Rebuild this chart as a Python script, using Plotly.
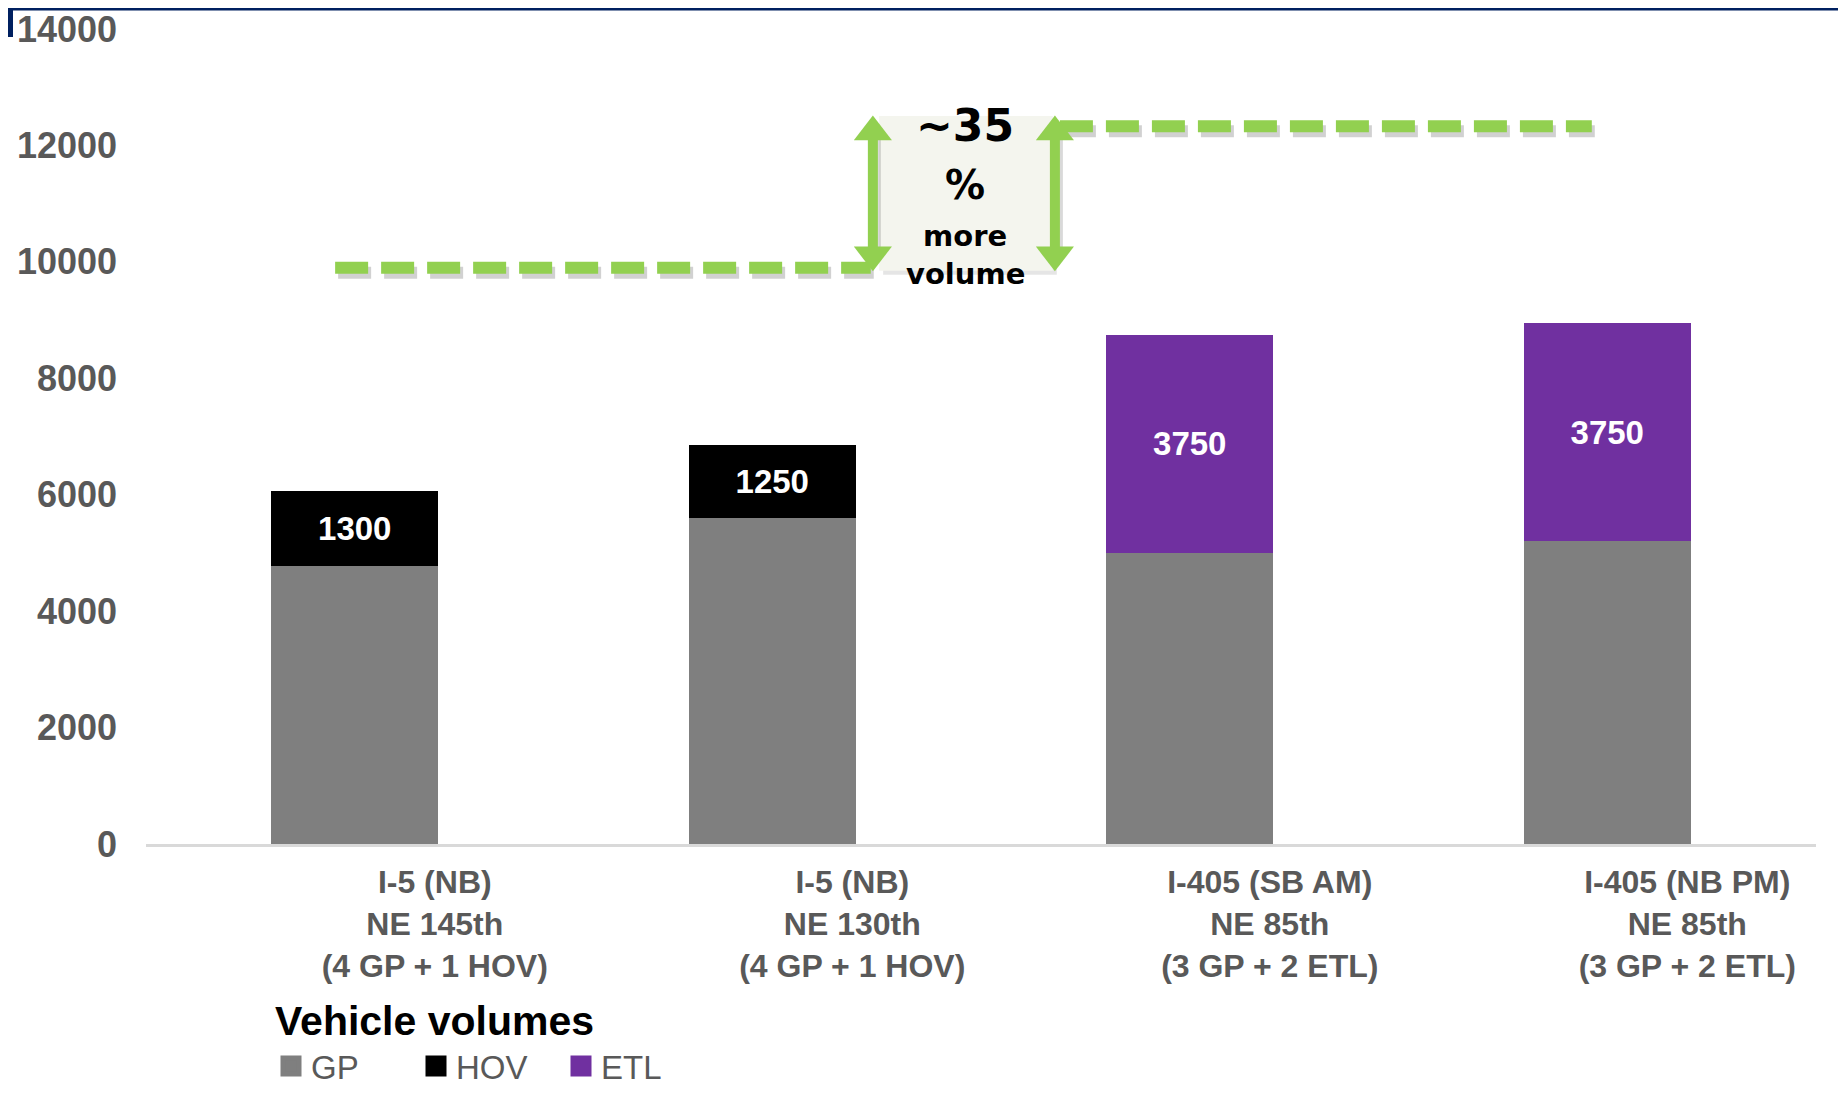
import plotly.graph_objects as go

# ---------------- data ----------------
categories = [
    "I-5 (NB)<br>NE 145th<br>(4 GP + 1 HOV)",
    "I-5 (NB)<br>NE 130th<br>(4 GP + 1 HOV)",
    "I-405 (SB AM)<br>NE 85th<br>(3 GP + 2 ETL)",
    "I-405 (NB PM)<br>NE 85th<br>(3 GP + 2 ETL)",
]
gp_values = [4770, 5600, 5000, 5200]
hov_values = [1300, 1250, None, None]
etl_values = [None, None, 3750, 3750]
y_ticks = [0, 2000, 4000, 6000, 8000, 10000, 12000, 14000]
legend_title = "Vehicle volumes"
series_names = ["GP", "HOV", "ETL"]

# callout levels
lower_level = 9900
upper_level = 12330
callout_lines = ["~35", "%", "more", "volume"]

# ---------------- style ----------------
# the page body has an 8px margin, so the figure is 16px smaller than the window
W, H = 1830, 1079
ML, MR, MT, MB = 138, 22, 21, 243
GP_COL, HOV_COL, ETL_COL = "#7f7f7f", "#000000", "#7030a0"
GREEN = "#92d050"
TXT = "#595959"
FONT = "Liberation Sans, Arial, sans-serif"
NARROW = "Liberation Sans Narrow, Arial Narrow, Liberation Sans, sans-serif"
CALL_FONT = "DejaVu Sans, Verdana, sans-serif"

plot_w = W - ML - MR
plot_h = H - MT - MB
ymax = y_ticks[-1]
px_x = 4.0 / plot_w          # x units per pixel
px_y = ymax / plot_h         # value units per pixel
zero_px = H - MB             # pixel row of the x axis

def paper_x(px):
    return (px - ML) / plot_w

def paper_y(py):
    return (zero_px - py) / plot_h

xpos = list(range(len(categories)))

fig = go.Figure()

fig.add_trace(go.Bar(x=xpos, y=gp_values, name="GP", marker_color=GP_COL,
                     width=0.4, showlegend=False, marker_line_width=0))
fig.add_trace(go.Bar(x=xpos, y=hov_values, name="HOV", marker_color=HOV_COL,
                     width=0.4, showlegend=False, marker_line_width=0,
                     text=[str(v) if v else "" for v in hov_values],
                     textposition="inside", insidetextanchor="middle", textangle=0,
                     textfont=dict(color="white", size=33, family=NARROW, weight="bold")))
fig.add_trace(go.Bar(x=xpos, y=etl_values, name="ETL", marker_color=ETL_COL,
                     width=0.4, showlegend=False, marker_line_width=0,
                     text=[str(v) if v else "" for v in etl_values],
                     textposition="inside", insidetextanchor="middle", textangle=0,
                     textfont=dict(color="white", size=33, family=NARROW, weight="bold")))

# legend entries (square symbols)
for name, col in zip(series_names, [GP_COL, HOV_COL, ETL_COL]):
    fig.add_trace(go.Scatter(x=[None], y=[None], mode="markers", name=name,
                             marker=dict(symbol="square", size=16, color=col,
                                         line=dict(color=col, width=5)),
                             showlegend=True))

# ---------------- callout ----------------
low_x0, low_x1 = -0.047, 1.236
up_x0, up_x1 = 1.689, 2.963
box_x0, box_x1 = 1.256, 1.672
box_y0, box_y1 = 9846, 12506
arr_l, arr_r = 1.241, 1.677
text_x = 1.462
head_off = 16 * px_y

shapes = []
# box shadow + box
shapes.append(dict(type="rect", xref="x", yref="y", layer="below",
                   x0=box_x0 + 4 * px_x, x1=box_x1 + 4 * px_x,
                   y0=box_y0 - 4 * px_y, y1=box_y1 - 4 * px_y,
                   fillcolor="rgba(0,0,0,0.10)", line=dict(width=0)))
shapes.append(dict(type="rect", xref="x", yref="y", layer="below",
                   x0=box_x0, x1=box_x1, y0=box_y0, y1=box_y1,
                   fillcolor="#f4f5ee", line=dict(width=0)))
# dashed lines with shadows
for (x0, x1, lvl) in [(low_x0, low_x1, lower_level), (up_x0, up_x1, upper_level)]:
    shapes.append(dict(type="line", xref="x", yref="y", layer="below",
                       x0=x0 + 3 * px_x, x1=x1 + 3 * px_x,
                       y0=lvl - 5 * px_y, y1=lvl - 5 * px_y,
                       line=dict(color="rgba(0,0,0,0.18)", width=12, dash="33px,13px")))
    shapes.append(dict(type="line", xref="x", yref="y", layer="below",
                       x0=x0, x1=x1, y0=lvl, y1=lvl,
                       line=dict(color=GREEN, width=12, dash="33px,13px")))
# arrow shafts
for ax in [arr_l, arr_r]:
    shapes.append(dict(type="line", xref="x", yref="y", layer="below",
                       x0=ax + 3 * px_x, x1=ax + 3 * px_x,
                       y0=box_y0 + head_off, y1=box_y1 - head_off,
                       line=dict(color="rgba(0,0,0,0.15)", width=10)))
    shapes.append(dict(type="line", xref="x", yref="y", layer="below",
                       x0=ax, x1=ax, y0=box_y0 + head_off, y1=box_y1 - head_off,
                       line=dict(color=GREEN, width=10)))
# arrow heads
fig.add_trace(go.Scatter(
    x=[arr_l, arr_l, arr_r, arr_r],
    y=[box_y1 - head_off, box_y0 + head_off, box_y1 - head_off, box_y0 + head_off],
    mode="markers", showlegend=False, hoverinfo="skip",
    marker=dict(symbol=["triangle-up", "triangle-down", "triangle-up", "triangle-down"],
                size=33, color=GREEN, line=dict(width=0)),
))

# page decorations: navy top rule + corner block
shapes.append(dict(type="rect", xref="paper", yref="paper", layer="above",
                   x0=paper_x(0), x1=paper_x(W), y0=paper_y(2.5), y1=paper_y(0),
                   fillcolor="#002060", line=dict(width=0)))
shapes.append(dict(type="rect", xref="paper", yref="paper", layer="above",
                   x0=paper_x(0), x1=paper_x(5), y0=paper_y(29), y1=paper_y(0),
                   fillcolor="#002060", line=dict(width=0)))

annotations = []
call_y = [12335, 11322, 10446, 9794]
call_size = [44, 40, 29, 29]
for t, yy, s in zip(callout_lines, call_y, call_size):
    annotations.append(dict(x=text_x, y=yy, xref="x", yref="y", text="<b>%s</b>" % t,
                            showarrow=False, xanchor="center", yanchor="middle",
                            font=dict(family=CALL_FONT, size=s, color="black")))
# legend heading
annotations.append(dict(x=paper_x(265), y=paper_y(1013), xref="paper", yref="paper",
                        text="<b>%s</b>" % legend_title, showarrow=False,
                        xanchor="left", yanchor="middle",
                        font=dict(family=FONT, size=41, color="black")))

fig.update_layout(
    width=W, height=H,
    margin=dict(l=ML, r=MR, t=MT, b=MB, autoexpand=False),
    paper_bgcolor="white", plot_bgcolor="white",
    barmode="stack",
    shapes=shapes,
    annotations=annotations,
    font=dict(family=FONT, color=TXT),
    showlegend=True,
    legend=dict(
        orientation="h",
        traceorder="normal",
        x=paper_x(263), xanchor="left",
        y=paper_y(1058), yanchor="middle",
        font=dict(size=33, color=TXT, family=FONT),
        itemsizing="trace",
        entrywidth=100, entrywidthmode="pixels",
        tracegroupgap=0,
        bgcolor="rgba(0,0,0,0)",
    ),
    xaxis=dict(
        range=[-0.5, 3.5],
        tickvals=xpos, ticktext=categories,
        showline=True, linecolor="#d9d9d9", linewidth=3,
        ticks="", showgrid=False, zeroline=False,
        tickfont=dict(size=32, color=TXT, family=FONT, weight="bold"),
        ticklabelshift=80, ticklabelstandoff=8,
    ),
    yaxis=dict(
        range=[0, ymax],
        tickvals=y_ticks,
        ticktext=[str(v) for v in y_ticks],
        showgrid=False, zeroline=False, showline=False, ticks="",
        tickfont=dict(size=36, color=TXT, family=FONT, weight="bold"),
        ticklabelstandoff=28,
    ),
)

fig.write_html("out.html")
